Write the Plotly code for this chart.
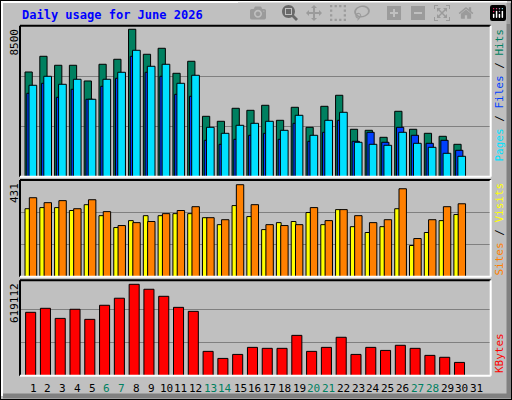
import plotly.graph_objects as go

# Data
days = list(range(1, 31))
day_labels = [str(d) for d in range(1, 32)]
weekend_days = [6, 7, 13, 14, 20, 21, 27, 28]

hits = [5894, 6778, 6272, 6272, 5388, 6328, 6610, 8299, 6891, 7229, 5821, 6497, 3400, 3119, 3851,
        3738, 4020, 3175, 3907, 2781, 3963, 4583, 2669, 2612, 2218, 3682, 2669, 2443, 2274, 1824]
files = [5146, 5652, 5202, 5484, 4358, 5484, 5878, 7116, 6216, 6328, 5258, 5709, 2781, 2443, 2894,
         3006, 3119, 2612, 3457, 2331, 3175, 3626, 1937, 1824, 1768, 2500, 1880, 1655, 1317, 1149]
pages = [4695, 5258, 4470, 4921, 4358, 5090, 5540, 6778, 5878, 5652, 4639, 4526, 2049, 1824, 2106,
         2331, 2443, 2106, 3006, 1993, 2500, 3175, 1993, 2500, 1937, 2781, 2331, 1880, 2049, 1486]
visits = [303, 308, 308, 295, 321, 272, 219, 250, 272, 272, 281, 281, 263, 232, 317,
          268, 210, 241, 246, 286, 232, 299, 223, 197, 223, 303, 139, 197, 250, 277]
sites = [352, 330, 339, 303, 343, 290, 228, 241, 246, 281, 295, 312, 263, 254, 410,
         321, 232, 228, 232, 308, 250, 299, 272, 241, 254, 392, 170, 254, 312, 325]
kbytes = [396000, 421000, 358000, 415000, 352000, 440000, 484000, 571000, 540000, 496000,
          427000, 402000, 152000, 108000, 133000, 177000, 171000, 171000, 252000, 152000,
          177000, 240000, 133000, 177000, 158000, 190000, 171000, 127000, 115000, 83000]

max_hits = 8500
max_sites = 431
max_kbytes = 619112

W, H = 512, 400
def py(p):
    return 1 - p / H

fig = go.Figure()
line = dict(color='black', width=1)

fig.add_bar(x=days, y=hits, offset=-0.54, width=0.49, marker=dict(color='#008060', line=line), xaxis='x', yaxis='y')
fig.add_bar(x=days, y=pages, offset=-0.42, width=0.49, marker=dict(color='#0040FF', line=line), xaxis='x', yaxis='y')
fig.add_bar(x=days, y=files, offset=-0.27, width=0.52, marker=dict(color='#00E0FF', line=line), xaxis='x', yaxis='y')
fig.add_bar(x=days, y=visits, offset=-0.54, width=0.32, marker=dict(color='#FFFF00', line=line), xaxis='x2', yaxis='y2')
fig.add_bar(x=days, y=sites, offset=-0.25, width=0.5, marker=dict(color='#FF8000', line=line), xaxis='x2', yaxis='y2')
fig.add_bar(x=days, y=kbytes, offset=-0.5, width=0.68, marker=dict(color='#FF0000', line=line), xaxis='x3', yaxis='y3')

xdom = [20 / W, 490.7 / W]
xr = [0.12, 31.95]
xax = dict(domain=xdom, range=xr, showticklabels=False, showgrid=False, zeroline=False,
           showline=False, fixedrange=True)
kb_top = max_kbytes * 95.3 / 99

def yax(dom, top, step):
    return dict(domain=dom, range=[0, top], tickvals=[step, 2 * step], showticklabels=False,
                showgrid=True, gridcolor='#808080', gridwidth=1, zeroline=False, showline=False)

fig.update_layout(
    width=W, height=H, margin=dict(l=0, r=0, t=0, b=0),
    paper_bgcolor='#C0C0C0', plot_bgcolor='#C0C0C0',
    barmode='overlay', showlegend=False,
    xaxis=dict(xax, anchor='y'),
    xaxis2=dict(xax, anchor='y2'),
    xaxis3=dict(xax, anchor='y3'),
    yaxis=yax([py(176.7), py(25.7)], max_hits, max_hits / 3),
    yaxis2=yax([py(276.7), py(180)], max_sites, max_sites / 3),
    yaxis3=yax([py(375.7), py(280.3)], kb_top, max_kbytes / 3),
    font=dict(family='DejaVu Sans Mono', size=11, color='black'),
)

# panel frames (inset look) and outer bevel
shapes = []
for top, bot in [(25.7, 176.7), (180, 276.7), (280.3, 375.7)]:
    x0, x1, y0, y1 = xdom[0], xdom[1], py(bot), py(top)
    shapes += [
        dict(type='line', xref='paper', yref='paper', x0=x0, x1=x1, y0=y1, y1=y1, line=dict(color='black', width=2)),
        dict(type='line', xref='paper', yref='paper', x0=x0, x1=x0, y0=y0, y1=y1, line=dict(color='black', width=2)),
        dict(type='line', xref='paper', yref='paper', x0=x1, x1=x1, y0=y0, y1=y1, line=dict(color='white', width=2)),
        dict(type='line', xref='paper', yref='paper', x0=x0, x1=x1, y0=y0, y1=y0, line=dict(color='white', width=2)),
    ]
shapes += [
    dict(type='line', xref='paper', yref='paper', x0=1 / W, x1=507 / W, y0=py(2), y1=py(2), line=dict(color='white', width=2)),
    dict(type='line', xref='paper', yref='paper', x0=2 / W, x1=2 / W, y0=py(396), y1=py(2), line=dict(color='white', width=2)),
    dict(type='line', xref='paper', yref='paper', x0=509 / W, x1=509 / W, y0=py(397), y1=py(3), line=dict(color='#808080', width=5)),
    dict(type='line', xref='paper', yref='paper', x0=3 / W, x1=511 / W, y0=py(396), y1=py(396), line=dict(color='#808080', width=5)),
    dict(type='rect', xref='paper', yref='paper', x0=0, x1=1, y0=0, y1=1, line=dict(color='black', width=2)),
]
fig.update_layout(shapes=shapes)

ann = [
    dict(text='<b>Daily usage for June 2026</b>', x=20 / W, y=py(15), xanchor='left', yanchor='middle',
         font=dict(color='#0000FF', size=12)),
    dict(text='8500', x=14 / W, y=py(27), textangle=-90, xanchor='center', yanchor='top'),
    dict(text='431', x=14 / W, y=py(181), textangle=-90, xanchor='center', yanchor='top'),
    dict(text='619112', x=14 / W, y=py(281), textangle=-90, xanchor='center', yanchor='top'),
    dict(text="<span style='color:#00E0FF'>Pages</span> / <span style='color:#0040FF'>Files</span> / "
              "<span style='color:#008060'>Hits</span>",
         x=499 / W, y=py(27), textangle=-90, xanchor='center', yanchor='top'),
    dict(text="<span style='color:#FF8000'>Sites</span> / <span style='color:#FFFF00'>Visits</span>",
         x=499 / W, y=py(181), textangle=-90, xanchor='center', yanchor='top'),
    dict(text="<span style='color:#FF0000'>KBytes</span>",
         x=499 / W, y=py(375), textangle=-90, xanchor='center', yanchor='bottom'),
]
for i, lab in enumerate(day_labels):
    d = i + 1
    ann.append(dict(text=lab, x=d, xref='x3', y=py(388), yanchor='middle',
                    font=dict(color='#008060' if d in weekend_days else 'black')))
for a in ann:
    a.setdefault('xref', 'paper')
    a.setdefault('yref', 'paper')
    a['showarrow'] = False
fig.update_layout(annotations=ann)

fig.write_html("out.html", post_script="document.body.style.margin='0';document.body.style.overflow='hidden';")
